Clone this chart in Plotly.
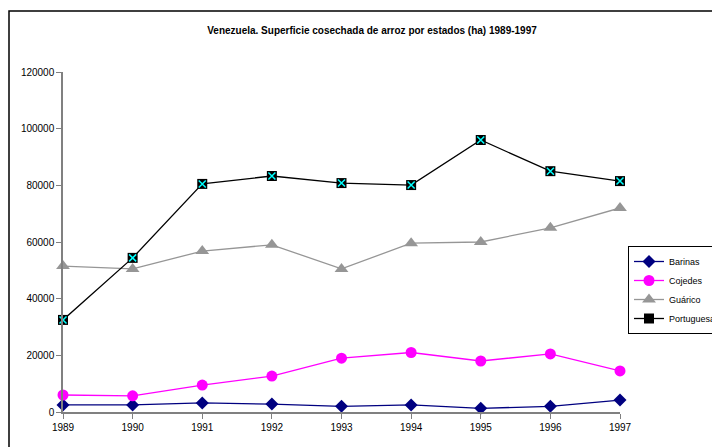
import plotly.graph_objects as go

years = [1989, 1990, 1991, 1992, 1993, 1994, 1995, 1996, 1997]
barinas = [2500, 2500, 3200, 2800, 2000, 2500, 1300, 2000, 4200]
cojedes = [6000, 5700, 9500, 12700, 19000, 21000, 18000, 20500, 14500]
guarico = [51500, 50500, 56800, 59000, 50500, 59600, 60000, 65000, 72000]
portuguesa = [32500, 54400, 80500, 83300, 80800, 80100, 96000, 85000, 81500]
y_ticks = [0, 20000, 40000, 60000, 80000, 100000, 120000]

fig = go.Figure()
fig.add_trace(go.Scatter(x=years, y=barinas, name="Barinas", mode="lines+markers",
                         line=dict(color="#000080", width=1.3),
                         marker=dict(symbol="diamond", size=10, color="#000080"),
                         cliponaxis=False))
fig.add_trace(go.Scatter(x=years, y=cojedes, name="Cojedes", mode="lines+markers",
                         line=dict(color="#FF00FF", width=1.3),
                         marker=dict(symbol="circle", size=11, color="#FF00FF"),
                         cliponaxis=False))
fig.add_trace(go.Scatter(x=years, y=guarico, name="Guárico", mode="lines+markers",
                         line=dict(color="#969696", width=1.3),
                         marker=dict(symbol="triangle-up", size=12, color="#969696"),
                         cliponaxis=False))
fig.add_trace(go.Scatter(x=years, y=portuguesa, name="Portuguesa", mode="lines+markers",
                         line=dict(color="#000000", width=1.3),
                         marker=dict(symbol="square", size=10, color="#000000"),
                         legendgroup="p", cliponaxis=False))
fig.add_trace(go.Scatter(x=years, y=portuguesa, name="Portuguesa", mode="markers",
                         marker=dict(symbol="x-thin-open", size=7, color="#00FFFF",
                                     line=dict(color="#00FFFF", width=1.5)),
                         legendgroup="p", showlegend=False, cliponaxis=False))

# page has an 8px body margin; figure coords = reference pixel - 8
OFF = 8
W, H = 720 - OFF, 447 - OFF
L, R, T, B = 63 - OFF, 620 - OFF, 72 - OFF, 412 - OFF
pw, ph = R - L, B - T

def px_x(p):
    return (p - OFF - L) / pw

def px_y(p):
    return (B - (p - OFF)) / ph

fig.add_shape(type="rect", xref="paper", yref="paper",
              x0=px_x(9), x1=px_x(740), y0=px_y(460), y1=px_y(11),
              line=dict(color="#000000", width=1.5), fillcolor="rgba(0,0,0,0)")

fig.update_layout(
    width=W, height=H,
    margin=dict(l=L, r=W - R, t=T, b=H - B, autoexpand=False),
    paper_bgcolor="white", plot_bgcolor="white",
    font=dict(family="Liberation Sans, Arial, sans-serif", size=10, color="#000000"),
    title=dict(text="<b>Venezuela. Superficie cosechada de arroz por estados (ha) 1989-1997</b>",
               x=(372 - OFF) / W, xanchor="center", y=1 - (30 - OFF) / H, yanchor="middle",
               font=dict(size=10)),
    showlegend=True,
    legend=dict(x=px_x(628), y=px_y(246), xanchor="left", yanchor="top",
                bordercolor="#000000", borderwidth=1, bgcolor="white",
                font=dict(size=9), tracegroupgap=0, itemwidth=30),
    xaxis=dict(range=[1989, 1997], tickvals=years, ticktext=[str(y) for y in years],
               showgrid=False, zeroline=False, showline=True, linecolor="#808080",
               linewidth=1.5, ticks="outside", ticklen=5, tickcolor="#808080",
               tickfont=dict(size=10)),
    yaxis=dict(range=[0, 120000], tickvals=y_ticks, tickformat="d", showgrid=False,
               zeroline=False, showline=True, linecolor="#808080", linewidth=1.5,
               ticks="outside", ticklen=5, tickcolor="#808080", tickfont=dict(size=10)),
)

fig.write_html("out.html")
